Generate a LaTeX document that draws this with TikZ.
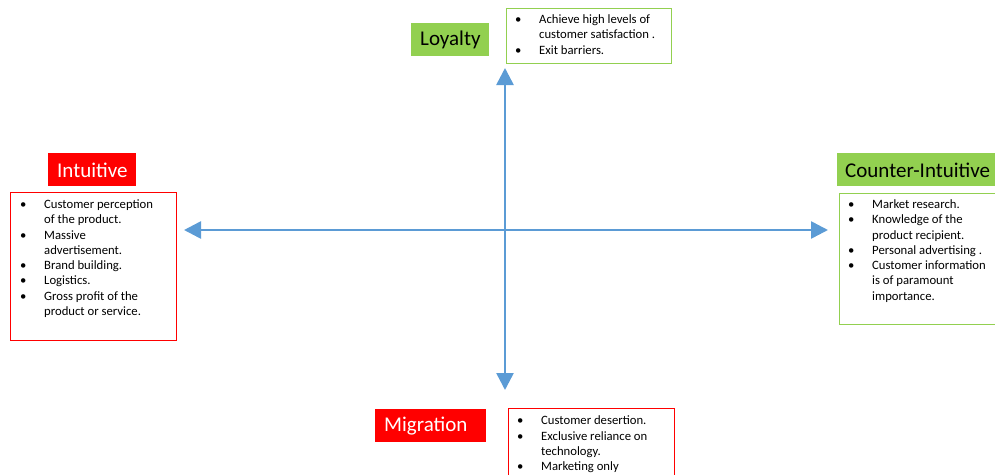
\documentclass[tikz,border=0pt]{standalone}
\usepackage{fontspec}
\setmainfont{Carlito}
\usetikzlibrary{arrows.meta,positioning}
\definecolor{axisblue}{HTML}{5B9BD5}
\definecolor{goodgreen}{HTML}{92D050}
\definecolor{badred}{HTML}{FF0000}
% bullet line and its continuation, each with a strut so the first baseline is fixed
\newcommand{\bitem}[1]{\strut\makebox[24pt][l]{\textbullet}#1}
\newcommand{\bcont}[1]{\strut\hspace*{24pt}#1}
\tikzset{
  axis/.style={line width=2.6pt, color=axisblue,
    arrows={Triangle[length=17pt,width=17pt]-Triangle[length=17pt,width=17pt]}},
  tag/.style={inner sep=0pt, anchor=north west},
  tagtext/.style={inner sep=0pt, anchor=west, font=\fontsize{21}{24}\selectfont},
  listbox/.style={draw, line width=0.8pt, fill=white, inner sep=0pt, anchor=north west},
  listtext/.style={inner sep=0pt, anchor=north west, align=left,
    font=\fontsize{12.7}{15.3}\selectfont},
}
\begin{document}
\begin{tikzpicture}[x=1pt,y=-1pt]
\useasboundingbox (0,0) rectangle (995,474);

% axes
\coordinate (top) at (505,68);
\coordinate (bottom) at (505,390);
\coordinate (left) at (184,230);
\coordinate (right) at (828,230);
\draw[axis] (left) -- (right);
\draw[axis] (bottom) -- (top);

% Loyalty
\node[tag, fill=goodgreen, minimum width=78pt, minimum height=33pt] (loyaltytag) at (411,23) {};
\node[tagtext, text=black] (loyaltytxt) at ([xshift=9pt,yshift=-0.5pt]loyaltytag.west) {Loyalty};
\node[listbox, draw=goodgreen, minimum width=165pt, minimum height=55pt] (loyaltybox) at (506,8) {};
\node[listtext] (loyaltylist) at ([xshift=9pt,yshift=-4.5pt]loyaltybox.north west)
  {\bitem{Achieve high levels of}\\ \bcont{customer satisfaction .}\\ \bitem{Exit barriers.}};

% Intuitive
\node[tag, fill=badred, minimum width=88pt, minimum height=33pt] (intuitivetag) at (48,153) {};
\node[tagtext, text=white] (intuitivetxt) at ([xshift=9pt,yshift=-0.5pt]intuitivetag.west) {Intuitive};
\node[listbox, draw=badred, minimum width=166pt, minimum height=148pt] (intuitivebox) at (10,192) {};
\node[listtext] (intuitivelist) at ([xshift=10pt,yshift=-5.5pt]intuitivebox.north west)
  {\bitem{Customer perception}\\ \bcont{of the product.}\\ \bitem{Massive}\\ \bcont{advertisement.}\\
   \bitem{Brand building.}\\ \bitem{Logistics.}\\ \bitem{Gross profit of the}\\ \bcont{product or service.}};

% Counter-Intuitive
\node[tag, fill=goodgreen, minimum width=160pt, minimum height=33pt] (countertag) at (837,153) {};
\node[tagtext, text=black] (countertxt) at ([xshift=8pt,yshift=-0.5pt]countertag.west) {Counter-Intuitive};
\node[listbox, draw=goodgreen, minimum width=160pt, minimum height=131pt] (counterbox) at (839,193) {};
\node[listtext] (counterlist) at ([xshift=9pt,yshift=-4.5pt]counterbox.north west)
  {\bitem{Market research.}\\ \bitem{Knowledge of the}\\ \bcont{product recipient.}\\
   \bitem{Personal advertising .}\\ \bitem{Customer information}\\ \bcont{is of paramount}\\ \bcont{importance.}};

% Migration
\node[tag, fill=badred, minimum width=111pt, minimum height=33pt] (migrationtag) at (375,409) {};
\node[tagtext, text=white] (migrationtxt) at ([xshift=9pt,yshift=-0.5pt]migrationtag.west) {Migration};
\node[listbox, draw=badred, minimum width=166pt, minimum height=80pt] (migrationbox) at (508,408) {};
\node[listtext] (migrationlist) at ([xshift=9pt,yshift=-6pt]migrationbox.north west)
  {\bitem{Customer desertion.}\\ \bitem{Exclusive reliance on}\\ \bcont{technology.}\\ \bitem{Marketing only}};
\end{tikzpicture}
\end{document}
